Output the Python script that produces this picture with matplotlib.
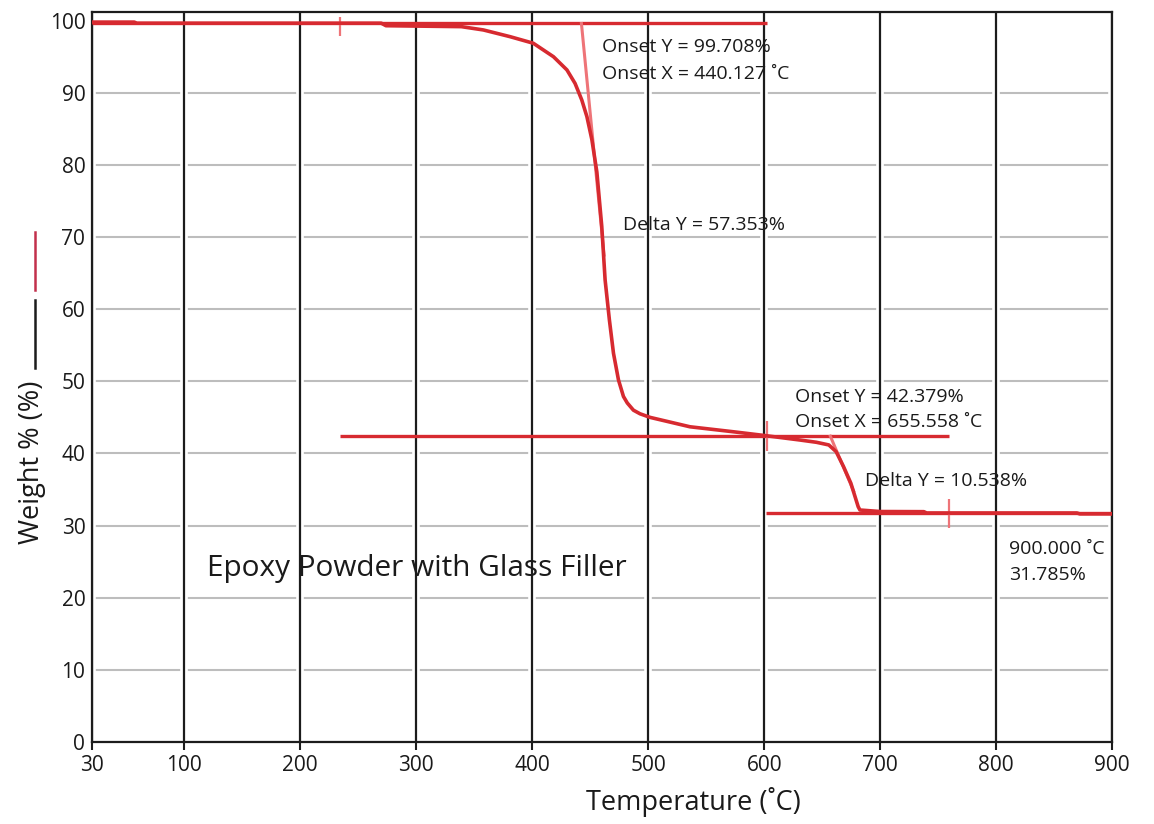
import numpy as np
import matplotlib
matplotlib.use('Agg')
import matplotlib.pyplot as plt
from matplotlib.lines import Line2D
import matplotlib.patheffects as pe

# ---------------- data ----------------
temp = [30, 62, 64, 270, 274, 339, 358, 381, 401, 418.4, 430, 437, 442.8, 447.2,
        451.5, 455.8, 460, 462.9, 466.6, 470.1, 474.4, 478.7, 482, 487.3, 493,
        501.7, 536, 573.8, 601.2, 630.5, 645, 655.7, 662, 668.4, 674.7, 681,
        682.5, 700, 737.6, 740, 869.5, 872, 900]
weight = [99.8, 99.8, 99.65, 99.65, 99.3, 99.17, 98.71, 97.78, 96.87, 95.0, 93.17,
          91.3, 89.0, 86.7, 83.5, 79.0, 71.5, 64.05, 58.5, 53.9, 50.2, 47.9, 47.0,
          46.0, 45.5, 45.0, 43.7, 43.0, 42.47, 41.87, 41.55, 41.18, 40.25, 38.17,
          35.87, 32.62, 32.16, 31.95, 31.93, 31.75, 31.75, 31.62, 31.62]

# horizontal construction lines: x start, x end, y
base_x0 = [30, 234.5, 601.6]
base_x1 = [602, 759.5, 900]
base_y = [99.708, 42.379, 31.785]

# onset tangent lines
tan_x0 = [442.5, 657]
tan_y0 = [99.6, 42.4]
tan_x1 = [462, 677]
tan_y1 = [67.5, 34.8]

# range markers: x, y low, y high
mark_x = [234.5, 602.7, 759]
mark_lo = [97.9, 40.4, 29.7]
mark_hi = [100.5, 44.5, 33.7]

ann_text = ["Onset Y = 99.708%", "Onset X = 440.127 \u02daC", "Delta Y = 57.353%",
            "Onset Y = 42.379%", "Onset X = 655.558 \u02daC", "Delta Y = 10.538%",
            "900.000 \u02daC", "31.785%"]
ann_x = [460.3, 460.3, 478.2, 626.7, 626.7, 686.6, 810.8, 810.8]
ann_y = [95.6, 91.9, 70.95, 47.15, 43.6, 35.55, 26.1, 22.5]

xticks = [30, 100, 200, 300, 400, 500, 600, 700, 800, 900]
yticks = [0, 10, 20, 30, 40, 50, 60, 70, 80, 90, 100]

# ---------------- style ----------------
plt.rcParams['font.family'] = ['Open Sans', 'DejaVu Sans']
RED = '#d72a30'
PINK = '#ee7478'
BLACK = '#1c1c1c'
TXT = '#1a1a1a'

fig = plt.figure(figsize=(11.54, 8.24), dpi=100)
ax = fig.add_axes([92.3 / 1154, 82 / 824, 1020 / 1154, 730 / 824])

# x axis: the 30..100 segment is stretched in the reference
K = 79.05 / 70.0


def fwd(x):
    x = np.asarray(x, dtype=float)
    return np.where(x < 100, 100 - (100 - x) * K, x)


def inv(u):
    u = np.asarray(u, dtype=float)
    return np.where(u < 100, 100 - (100 - u) / K, u)


ax.set_xscale('function', functions=(fwd, inv))
ax.set_xlim(30, 900)
ax.set_ylim(0, 101.2)
ax.set_xticks(xticks)
ax.set_xticklabels([str(t) for t in xticks])
ax.set_yticks(yticks)
ax.set_yticklabels([str(t) for t in yticks])

ax.set_axisbelow(True)
ax.yaxis.grid(True, color='#bdbdbd', lw=1.5)
for gl in ax.yaxis.get_gridlines()[-1:]:
    gl.set_visible(False)

# black vertical grid lines with a white halo (gaps in the grey lines)
ax.vlines(xticks, 0, 101.2, color=BLACK, lw=1.6, zorder=1,
          path_effects=[pe.Stroke(linewidth=5.5, foreground='white'), pe.Normal()])

for s in ax.spines.values():
    s.set_color(BLACK)
    s.set_linewidth(1.6)

ax.tick_params(axis='x', direction='out', length=5.5, width=1.5, color=BLACK,
               labelsize=15, pad=4, labelcolor=TXT)
ax.tick_params(axis='y', length=0, pad=5, labelsize=15, labelcolor=TXT)

# construction lines
ax.hlines(base_y, base_x0, base_x1, color=RED, lw=2.4, zorder=3)
for x0, y0, x1, y1 in zip(tan_x0, tan_y0, tan_x1, tan_y1):
    ax.plot([x0, x1], [y0, y1], color=PINK, lw=2.2, zorder=3)
ax.vlines(mark_x, mark_lo, mark_hi, color=PINK, lw=1.6, zorder=3)

# TGA curve
ax.plot(temp, weight, color=RED, lw=2.6, zorder=4, solid_joinstyle='round')

# annotations
for t, x, y in zip(ann_text, ann_x, ann_y):
    ax.text(x, y, t, fontsize=14, color=TXT, ha='left', va='baseline', zorder=5)

ax.text(119.8, 23.03, "Epoxy Powder with Glass Filler", fontsize=21.4,
        color=TXT, ha='left', va='baseline')

ax.set_xlabel("Temperature (\u02daC)", fontsize=19.5, color=TXT)
ax.xaxis.set_label_coords((693 - 92.3) / 1020, (742 - 801.7) / 730)
ax.xaxis.label.set_verticalalignment('center')

ax.set_ylabel("Weight % (%)", fontsize=19.5, color=TXT)
ax.yaxis.set_label_coords((32 - 92.3) / 1020, (742 - 462) / 730)
ax.yaxis.label.set_verticalalignment('center')

# legend-like sample marks beside the y label
fig.add_artist(Line2D([35 / 1154, 35 / 1154], [1 - 232 / 824, 1 - 290 / 824],
                      color='#c2304c', lw=1.8))
fig.add_artist(Line2D([35 / 1154, 35 / 1154], [1 - 300 / 824, 1 - 368 / 824],
                      color=BLACK, lw=1.8))

fig.savefig('out.png', dpi=100)
